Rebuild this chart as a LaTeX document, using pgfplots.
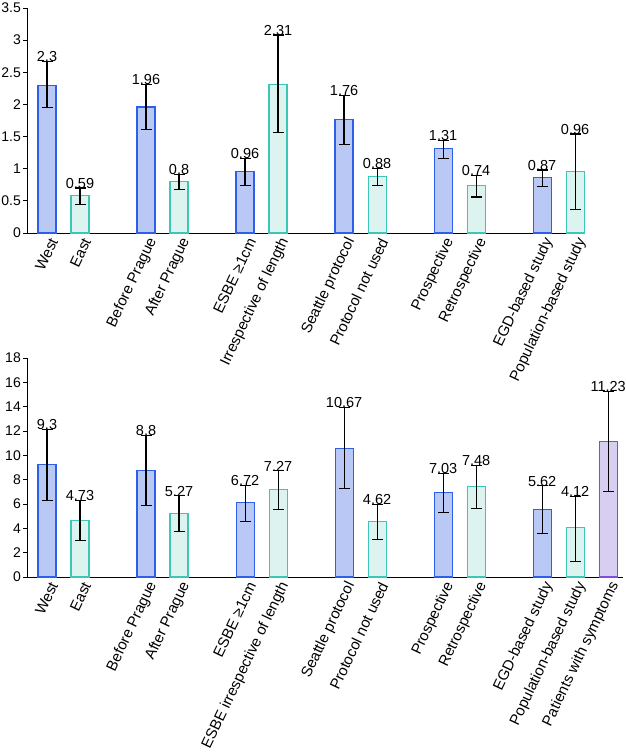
\documentclass[border=0pt]{standalone}
\usepackage{fontspec}
\setmainfont{Liberation Sans}
\usepackage{pgfplots}
\pgfplotsset{compat=1.18}
\usepackage{pgfplotstable}

\definecolor{bfill}{HTML}{B9C8F4}
\definecolor{bline}{HTML}{2E5FE8}
\definecolor{tfill}{HTML}{DDF3EF}
\definecolor{tline}{HTML}{3CC6B5}
\definecolor{pfill}{HTML}{D8CEF2}
\definecolor{pline}{HTML}{7B4FD9}

% top panel
\pgfplotstableread{
x y lo hi lab
0 2.30 1.95 2.67 2.3
3 1.96 1.61 2.31 1.96
6 0.96 0.74 1.16 0.96
9 1.76 1.37 2.14 1.76
12 1.31 1.16 1.44 1.31
15 0.87 0.73 0.98 0.87
}\topblue
\pgfplotstableread{
x y lo hi lab
1 0.59 0.44 0.70 0.59
4 0.80 0.68 0.91 0.8
7 2.31 1.57 3.08 2.31
10 0.88 0.74 1.00 0.88
13 0.74 0.56 0.90 0.74
16 0.96 0.37 1.54 0.96
}\topteal
% bottom panel
\pgfplotstableread{
x y lo hi lab
0 9.24 6.26 12.14 9.3
3 8.78 5.90 11.62 8.8
6 6.10 4.54 7.50 6.72
9 10.58 7.30 13.92 10.67
12 6.92 5.33 8.53 7.03
15 5.52 3.55 7.49 5.62
}\botblue
\pgfplotstableread{
x y lo hi lab
1 4.62 3.00 6.26 4.73
4 5.22 3.72 6.67 5.27
7 7.19 5.58 8.72 7.27
10 4.54 3.06 5.96 4.62
13 7.41 5.63 9.19 7.48
16 4.08 1.31 6.64 4.12
}\botteal
\pgfplotstableread{
x y lo hi lab
17 11.13 7.00 15.28 11.23
}\botpurple

\pgfplotsset{
  panel/.style={
    scale only axis,
    clip=false,
    axis x line=bottom,
    axis y line=left,
    axis line style={black, line width=0.9pt, -},
    ymin=0,
    xmin=-0.606,
    xtick=data,
    major x tick style={draw=none},
    ytick style={black, line width=0.9pt},
    tick align=outside,
    major tick length=4pt,
    /pgf/number format/assume math mode=true,
    /pgf/number format/fixed,
    yticklabel style={font=\fontsize{14}{16}\selectfont, inner sep=2pt},
    xticklabel style={font=\fontsize{15}{17}\selectfont, xshift=7pt, yshift=-2pt, rotate=64.5, anchor=east, inner sep=0pt},
  },
  barplot/.style={ybar, bar width=18pt, bar shift=0pt, line width=1.1pt,
    error bars/y dir=both, error bars/y explicit,
    error bars/error bar style={black, line width=1.1pt},
    error bars/error mark options={rotate=90, black, line width=1.1pt, mark size=5.5pt}},
  labplot/.style={draw=none, mark=none, nodes near coords, point meta=explicit symbolic,
    every node near coord/.append style={anchor=south, inner sep=0pt, yshift=-0.5pt, black,
      font=\fontsize{14.5}{16}\selectfont}},
}

\newcommand{\bars}[3]{%
  \addplot[barplot, draw=#2, fill=#3] table[x=x, y=y,
    y error plus expr=\thisrow{hi}-\thisrow{y},
    y error minus expr=\thisrow{y}-\thisrow{lo}]{#1};
  \addplot[labplot] table[x=x, y=hi, meta=lab]{#1};
}

\begin{document}
\begin{tikzpicture}
\path[use as bounding box] (0,0) rectangle (625pt,752pt);

\begin{axis}[panel,
  at={(27pt,519pt)}, anchor=south west,
  width=556pt, height=225pt,
  xmax=16.24, ymax=3.5,
  ytick={0,0.5,...,3.5},
  xtick={0,1,3,4,6,7,9,10,12,13,15,16},
  xticklabels={West,East,Before Prague,After Prague,ESBE ≥1cm,Irrespective of length,Seattle protocol,Protocol not used,Prospective,Retrospective,EGD-based study,Population-based study},
]
\bars{\topblue}{bline}{bfill}
\bars{\topteal}{tline}{tfill}
\end{axis}

\begin{axis}[panel,
  at={(27pt,175pt)}, anchor=south west,
  width=596pt, height=219pt,
  xmax=17.45, ymax=18,
  ytick={0,2,...,18},
  xtick={0,1,3,4,6,7,9,10,12,13,15,16,17},
  xticklabels={West,East,Before Prague,After Prague,ESBE ≥1cm,ESBE irrespective of length,Seattle protocol,Protocol not used,Prospective,Retrospective,EGD-based study,Population-based study,Patients with symptoms},
]
\bars{\botblue}{bline}{bfill}
\bars{\botteal}{tline}{tfill}
\bars{\botpurple}{pline}{pfill}
\end{axis}
\end{tikzpicture}
\end{document}
